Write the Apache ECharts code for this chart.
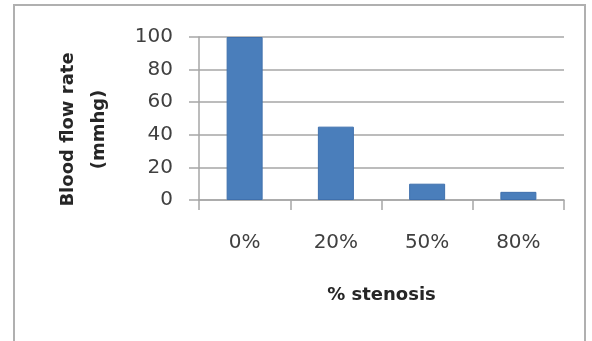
<!DOCTYPE html>
<html>
<head>
<meta charset="utf-8">
<script src="https://cdn.jsdelivr.net/npm/echarts@6/dist/echarts.min.js"></script>
<style>
html,body{margin:0;padding:0;background:#fff;}
#chart{width:592px;height:341px;}
</style>
</head>
<body>
<div id="chart"></div>
<script>
const categories = ['0%', '20%', '50%', '80%'];
const flowValues = [100, 45, 10, 5];
const yTicks = [0, 20, 40, 60, 80, 100];

const chart = echarts.init(document.getElementById('chart'), null, {renderer: 'canvas'});
const gray = '#a6a6a6';
chart.setOption({
  animation: false,
  backgroundColor: '#fff',
  graphic: [{
    type: 'rect',
    shape: {x: 14, y: 5, width: 571, height: 345},
    style: {fill: 'none', stroke: '#b0b0b0', lineWidth: 2},
    silent: true
  }],
  grid: {left: 199, right: 28, top: 37, bottom: 141},
  xAxis: {
    type: 'category',
    data: categories,
    name: '% stenosis',
    nameLocation: 'middle',
    nameGap: 86,
    nameTextStyle: {fontFamily: 'DejaVu Sans', fontWeight: 'bold', fontSize: 18, color: '#262626'},
    axisLine: {lineStyle: {color: gray, width: 1.5}},
    axisTick: {show: true, length: 10, lineStyle: {color: gray, width: 1.5}, alignWithLabel: false},
    axisLabel: {fontFamily: 'DejaVu Sans', fontSize: 20, color: '#404040', margin: 33},
    splitLine: {show: false}
  },
  yAxis: {
    type: 'value',
    min: yTicks[0],
    max: yTicks[yTicks.length - 1],
    interval: 20,
    name: 'Blood flow rate\n(mmhg)',
    nameLocation: 'middle',
    nameGap: 84,
    nameRotate: 90,
    nameTextStyle: {fontFamily: 'DejaVu Sans', fontWeight: 'bold', fontSize: 18, color: '#262626', lineHeight: 31, padding: [0, 22, 0, 0]},
    axisLine: {show: true, lineStyle: {color: gray, width: 1.5}},
    axisTick: {show: true, length: 10, lineStyle: {color: gray, width: 1.5}},
    axisLabel: {fontFamily: 'DejaVu Sans', fontSize: 20, color: '#404040', margin: 26},
    splitLine: {show: true, lineStyle: {color: gray, width: 1.5}}
  },
  series: [{
    type: 'bar',
    data: flowValues,
    barWidth: 36,
    itemStyle: {color: '#4a7ebb', borderColor: '#3f70ad', borderWidth: 1}
  }]
});
</script>
</body>
</html>
